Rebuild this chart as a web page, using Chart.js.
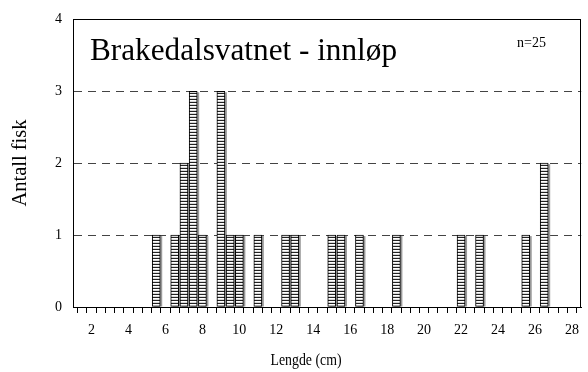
<!DOCTYPE html>
<html>
<head>
<meta charset="utf-8">
<script src="https://cdn.jsdelivr.net/npm/chart.js@4/dist/chart.umd.min.js"></script>
<style>
html,body{margin:0;padding:0;background:#fff;}
#wrap{width:588px;height:372px;position:relative;}
</style>
</head>
<body>
<div id="wrap"><canvas id="c" width="588" height="372"></canvas></div>
<script>
// Data
const lengths = [5.5, 6.5, 7, 7.5, 8, 9, 9.5, 10, 11, 12.5, 13, 15, 15.5, 16.5, 18.5, 22, 23, 25.5, 26.5];
const counts  = [1,   1,   2, 3,   1, 3, 1,   1,  1,  1,    1,  1,  1,    1,    1,    1,  1,  1,    2];
const xTickLabels = [2, 4, 6, 8, 10, 12, 14, 16, 18, 20, 22, 24, 26, 28];
const yTicks = [0, 1, 2, 3, 4];
const chartTitle = 'Brakedalsvatnet - innløp';
const nLabel = 'n=25';
const xTitle = 'Lengde (cm)';
const yTitle = 'Antall fisk';

// minor tick marks every 0.5 cm
const xMinorTicks = [];
for (let v = 1.5; v <= 28.001; v += 0.5) xMinorTicks.push(Math.round(v * 2) / 2);

const FONT = '"Liberation Serif", "Times New Roman", serif';

// hatch pattern (horizontal stripes)
const pc = document.createElement('canvas');
pc.width = 4; pc.height = 3;
const pctx = pc.getContext('2d');
pctx.fillStyle = '#ffffff'; pctx.fillRect(0,0,4,3);
pctx.fillStyle = '#222222'; pctx.fillRect(0,0,4,1);
pctx.fillStyle = '#d8d8d8'; pctx.fillRect(0,2,4,1);
const ctx = document.getElementById('c').getContext('2d');
const hatch = ctx.createPattern(pc, 'repeat');

function fitText(c, text, size, targetW, x, y, align, rot) {
  c.save();
  c.font = size + 'px ' + FONT;
  const w = c.measureText(text).width;
  const sx = targetW ? targetW / w : 1;
  c.translate(x, y);
  if (rot) c.rotate(rot);
  c.scale(sx, 1);
  c.textAlign = align;
  c.fillText(text, 0, 0);
  c.restore();
}

const decor = {
  id: 'decor',
  beforeDatasetsDraw(chart) {
    const c = chart.ctx;
    const meta = chart.getDatasetMeta(0);
    c.save();
    c.fillStyle = '#9a9a9a';
    meta.data.forEach(b => {
      const w = b.width;
      c.fillRect(b.x - w/2 + 2, b.y + 1, w, b.base - b.y - 1);
    });
    c.restore();
  },
  afterDraw(chart) {
    const c = chart.ctx;
    const a = chart.chartArea;
    c.save();
    c.strokeStyle = '#000';
    c.lineWidth = 1;
    c.strokeRect(Math.round(a.left) + 0.5, Math.round(a.top) + 0.5, Math.round(a.right - a.left) - 1, Math.round(a.bottom - a.top));
    c.fillStyle = '#000';
    c.textBaseline = 'alphabetic';
    fitText(c, chartTitle, 31, 307, 90, 60, 'left', 0);
    fitText(c, nLabel, 14, 0, 517, 47, 'left', 0);
    c.textBaseline = 'middle';
    fitText(c, xTitle, 16, 71, 306, 361, 'center', 0);
    fitText(c, yTitle, 20, 87, 21, 163, 'center', -Math.PI/2);
    c.restore();
  }
};

new Chart(ctx, {
  type: 'bar',
  data: {
    datasets: [{
      data: lengths.map((x, i) => ({x: x, y: counts[i]})),
      backgroundColor: hatch,
      borderColor: '#000',
      borderWidth: 1,
      borderSkipped: false,
      barThickness: 8
    }]
  },
  options: {
    responsive: false,
    animation: false,
    events: [],
    layout: { padding: { top: 18, right: 5, left: 0, bottom: 0 } },
    plugins: { legend: { display: false }, tooltip: { enabled: false } },
    scales: {
      x: {
        type: 'linear',
        min: 1.25,
        max: 28.25,
        afterFit(s) { s.height = 65; },
        afterBuildTicks(s) { s.ticks = xMinorTicks.map(v => ({value: v})); },
        ticks: {
          autoSkip: false,
          maxRotation: 0,
          padding: 9,
          color: '#000',
          font: { family: FONT, size: 14 },
          callback: v => (xTickLabels.includes(v) ? String(v) : '')
        },
        grid: {
          drawOnChartArea: false,
          drawTicks: true,
          tickLength: 6,
          color: '#000',
          lineWidth: 1
        },
        border: { display: true, color: '#000', width: 1 }
      },
      y: {
        min: 0,
        max: 4,
        afterFit(s) { s.width = 73; },
        afterBuildTicks(s) { s.ticks = yTicks.map(v => ({value: v})); },
        ticks: {
          padding: 11,
          color: '#000',
          font: { family: FONT, size: 14 }
        },
        grid: {
          drawTicks: false,
          color: c2 => (c2.tick && (c2.tick.value === 0 || c2.tick.value === 4)) ? 'rgba(0,0,0,0)' : '#444',
          lineWidth: 1
        },
        border: { display: true, color: '#000', width: 1, dash: [8, 6] }
      }
    }
  },
  plugins: [decor]
});
</script>
</body>
</html>
